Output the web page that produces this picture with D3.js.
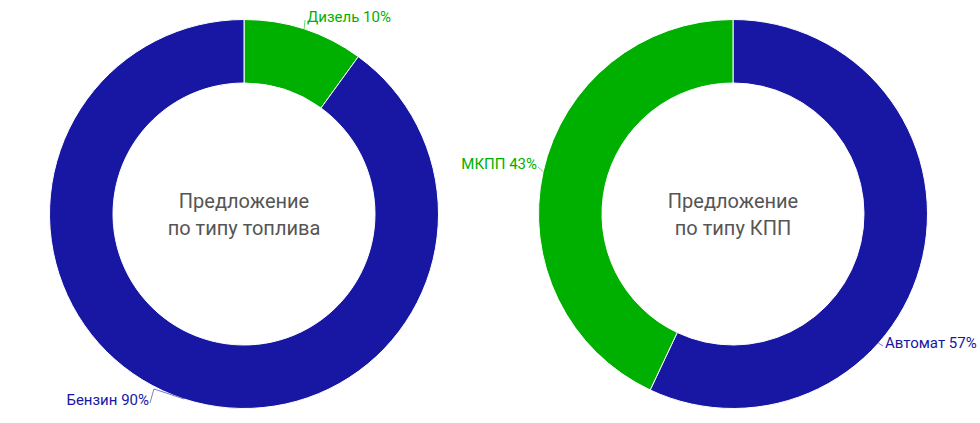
<!DOCTYPE html>
<html>
<head>
<meta charset="utf-8">
<script src="https://cdn.jsdelivr.net/npm/d3@7"></script>
<style>
  html, body { margin: 0; padding: 0; background: #fff; }
  svg text { font-family: Roboto, "Noto Sans", sans-serif; }
</style>
</head>
<body>
<div id="chart"></div>
<script>
var fuelLabels = ['Дизель', 'Бензин'];
var fuelValues = [10, 90];
var gearLabels = ['Автомат', 'МКПП'];
var gearValues = [57, 43];
var titles = [['Предложение', 'по типу топлива'], ['Предложение', 'по типу КПП']];

var W = 980, H = 423;
var blue = '#1717a3', green = '#00b000';

var svg = d3.select('#chart').append('svg').attr('width', W).attr('height', H);

var charts = [
  { cx: 244, cy: 214, labels: fuelLabels, values: fuelValues, colors: [green, blue], title: titles[0],
    // label anchors: [angle offset from slice middle (deg), label x, label y, anchor]
    place: [[0, 307, 17, 'start'], [0, 149, 400, 'end']] },
  { cx: 733, cy: 214, labels: gearLabels, values: gearValues, colors: [blue, green], title: titles[1],
    place: [[29, 885, 343, 'start'], [0, 537, 164, 'end']] }
];

var rOut = 194.5, rIn = 131;

charts.forEach(function(c) {
  var g = svg.append('g').attr('transform', 'translate(' + c.cx + ',' + c.cy + ')');
  var pie = d3.pie().sort(null).value(function(d) { return d; });
  var arcs = pie(c.values);
  var arc = d3.arc().innerRadius(rIn).outerRadius(rOut);

  g.selectAll('path.slice').data(arcs).enter().append('path')
    .attr('class', 'slice')
    .attr('d', arc)
    .attr('fill', function(d, i) { return c.colors[i]; })
    .attr('stroke', '#fff')
    .attr('stroke-width', 1);

  arcs.forEach(function(d, i) {
    var p = c.place[i];
    var a = (d.startAngle + d.endAngle) / 2 + p[0] * Math.PI / 180;
    var x0 = Math.sin(a) * rOut, y0 = -Math.cos(a) * rOut;
    var lx = p[1] - c.cx, ly = p[2] - c.cy;
    var ex = p[3] === 'start' ? lx - 2 : lx + 1;
    var pts;
    if (i === 1 && c === charts[0]) {
      pts = [[x0, y0], [x0 - 30, y0 - 10], [ex, ly + 3]];
    } else {
      pts = [[x0, y0], [ex, ly + 3]];
    }
    g.append('path')
      .attr('d', d3.line()(pts))
      .attr('fill', 'none')
      .attr('stroke', c.colors[i])
      .attr('stroke-opacity', 0.55)
      .attr('stroke-width', 1);
    g.append('text')
      .attr('x', lx).attr('y', ly)
      .attr('dy', '0.35em')
      .attr('text-anchor', p[3])
      .attr('fill', c.colors[i])
      .attr('font-size', 15)
      .text(c.labels[i] + ' ' + c.values[i] + '%');
  });

  g.append('text')
    .attr('text-anchor', 'middle')
    .attr('fill', '#555')
    .attr('font-size', 20)
    .selectAll('tspan').data(c.title).enter().append('tspan')
    .attr('x', 0)
    .attr('y', function(d, i) { return i === 0 ? -13 : 14; })
    .attr('dy', '0.35em')
    .text(function(d) { return d; });
});
</script>
</body>
</html>
